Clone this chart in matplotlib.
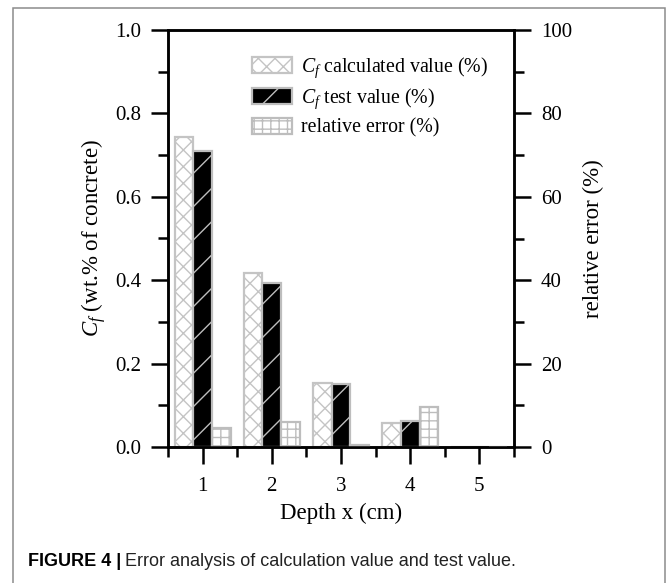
import numpy as np
import matplotlib
matplotlib.use("Agg")
import matplotlib.pyplot as plt
from matplotlib.patches import Rectangle
from matplotlib.ticker import MultipleLocator

plt.rcParams['font.family'] = ['Liberation Serif', 'DejaVu Serif']
plt.rcParams['mathtext.fontset'] = 'custom'
plt.rcParams['mathtext.rm'] = 'Liberation Serif'
plt.rcParams['mathtext.it'] = 'Liberation Serif:italic'
plt.rcParams['hatch.linewidth'] = 1.0

# depth positions and measured/calculated chloride content
depth = [1, 2, 3, 4, 5]
cf_calc = [0.744, 0.417, 0.153, 0.058, 0.0]
cf_test = [0.710, 0.393, 0.151, 0.062, 0.0]
rel_err = [4.5, 6.0, 0.5, 9.7, 0.0]

W, H, DPI = 667, 583, 100
fig = plt.figure(figsize=(W / DPI, H / DPI), dpi=DPI)
fig.patch.set_facecolor('white')

# outer frame of the figure panel
fig.add_artist(Rectangle((13 / W, -0.1), (665 - 13) / W, 1.1 - 8 / H,
                         transform=fig.transFigure, fill=False,
                         edgecolor='#8c8c8c', linewidth=1.1))

left, right, top, bottom = 168, 514, 30, 447
ax = fig.add_axes([left / W, 1 - bottom / H, (right - left) / W, (bottom - top) / H])
ax2 = ax.twinx()

x = np.array(depth, dtype=float)
w = 0.27
edge = '#bdbdbd'
b1 = ax.bar(x - w, cf_calc, w, color='white', edgecolor='#c4c4c4', hatch='xx', linewidth=1.6)
b2 = ax.bar(x, cf_test, w, color='black', edgecolor=edge, hatch='/', linewidth=1.6)
b3 = ax2.bar(x + w, rel_err, w, color='white', edgecolor=edge, hatch='++', linewidth=1.6)

ax.set_xlim(0.5, 5.5)
ax.set_ylim(0, 1.0)
ax2.set_ylim(0, 100)

ax.set_xticks(depth)
ax.xaxis.set_minor_locator(MultipleLocator(0.5))
ax.yaxis.set_major_locator(MultipleLocator(0.2))
ax.yaxis.set_minor_locator(MultipleLocator(0.1))
ax.yaxis.set_major_formatter(matplotlib.ticker.FormatStrFormatter('%.1f'))
ax2.yaxis.set_major_locator(MultipleLocator(20))
ax2.yaxis.set_minor_locator(MultipleLocator(10))

lw = 1.8
for a in (ax, ax2):
    for s in a.spines.values():
        s.set_linewidth(lw)
ax.tick_params(axis='both', which='major', direction='out', length=12.5, width=lw,
               labelsize=15, pad=7)
ax.tick_params(axis='both', which='minor', direction='out', length=7.5, width=lw)
ax.tick_params(axis='x', which='major', pad=9)
ax.tick_params(top=False, right=False, which='both')
ax2.tick_params(axis='y', which='major', direction='out', length=12.5, width=lw,
                labelsize=15, pad=7)
ax2.tick_params(axis='y', which='minor', direction='out', length=7.5, width=lw)

ax.set_xlabel('Depth x (cm)', fontsize=16.5)
ax.xaxis.set_label_coords(0.5, -0.135)
ax.set_ylabel('$C_f$ (wt.% of concrete)', fontsize=16.5)
ax.yaxis.set_label_coords(-0.173, 0.5)
ax2.set_ylabel('relative error (%)', fontsize=16.5)
ax2.yaxis.set_label_coords(1.2, 0.5)

leg = ax2.legend([b1, b2, b3],
                 ['$C_f$ calculated value (%)', '$C_f$ test value (%)', 'relative error (%)'],
                 loc='upper left', bbox_to_anchor=(252 / W, 1 - 55 / H),
                 bbox_transform=fig.transFigure, frameon=False, fontsize=14.3,
                 handlelength=2.0, handleheight=0.85, handletextpad=0.45,
                 labelspacing=0.35, borderaxespad=0, borderpad=0)

# caption under the chart
cap_y = 1 - 561 / H
cap_font = ['Liberation Sans Narrow', 'Liberation Sans']
t1 = fig.text(28 / W, cap_y, 'FIGURE 4 |', fontsize=13, fontweight='bold',
              family=cap_font, va='center')
fig.canvas.draw()
bb = t1.get_window_extent()
fig.text((bb.x1 + 4) / W, cap_y, 'Error analysis of calculation value and test value.',
         fontsize=13, family=cap_font, va='center', color='#222222')

fig.savefig('out.png', dpi=DPI)
